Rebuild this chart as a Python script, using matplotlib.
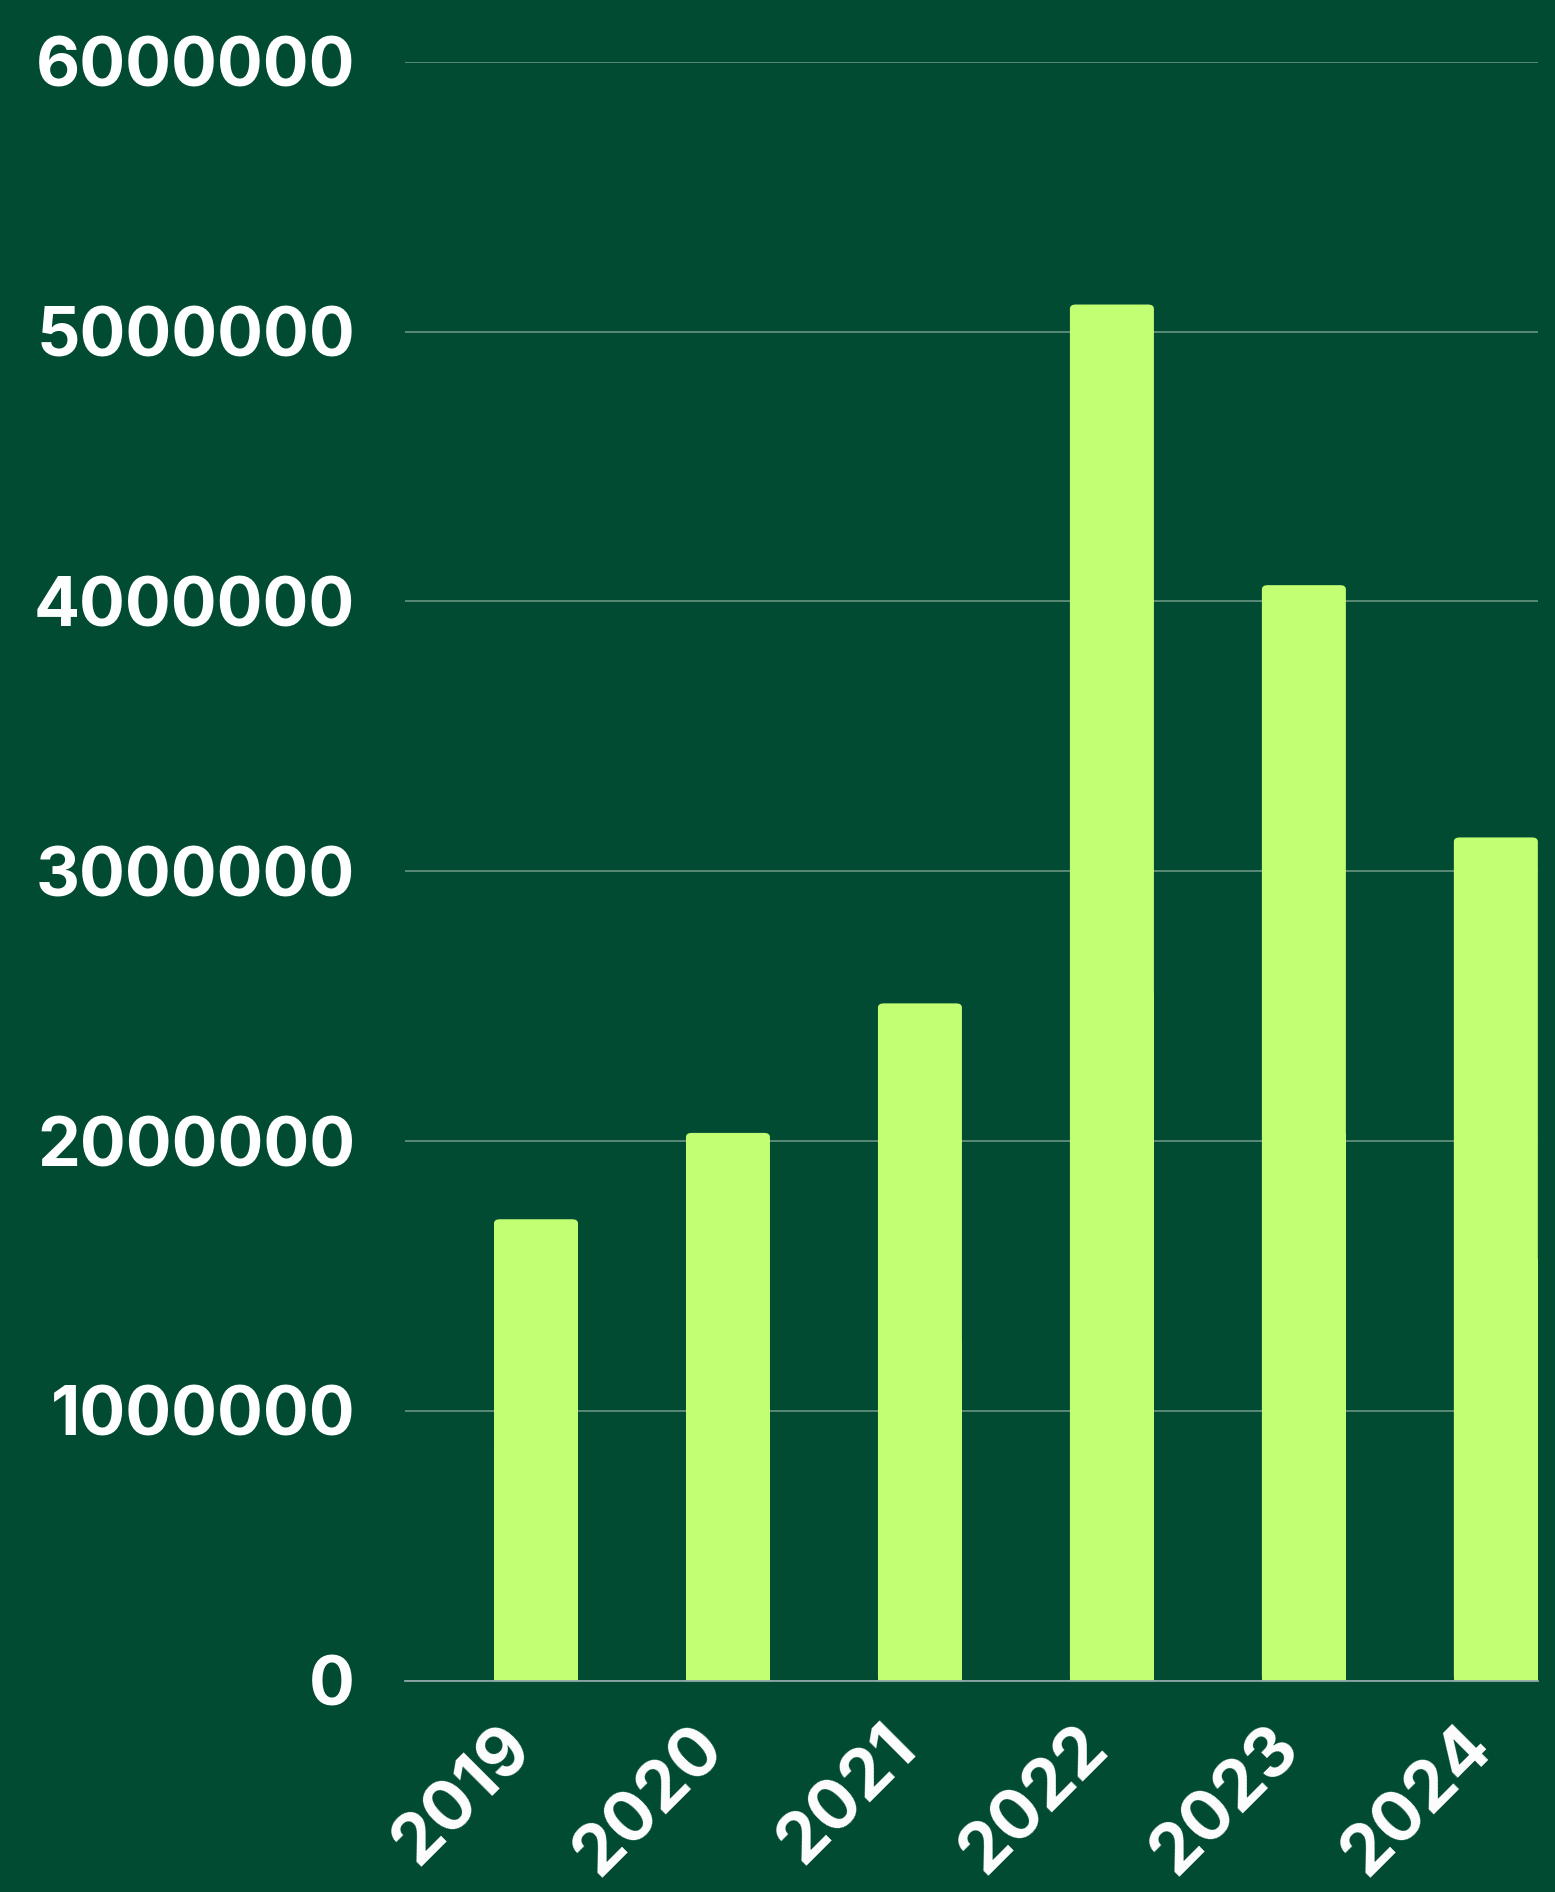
import matplotlib.pyplot as plt
import matplotlib.transforms as mtransforms
from matplotlib.patches import FancyBboxPatch

years = ['2019', '2020', '2021', '2022', '2023', '2024']
values = [1710000, 2030000, 2510000, 5100000, 4060000, 3125000]
yticks = [0, 1000000, 2000000, 3000000, 4000000, 5000000, 6000000]

bg = '#024B33'
bar_color = '#C3FF72'
grid_color = '#5F8E7A'

plt.rcParams['font.family'] = ['Inter', 'DejaVu Sans']
plt.rcParams['font.weight'] = 'bold'

fig = plt.figure(figsize=(15.55, 18.92), dpi=100, facecolor=bg)
ax = fig.add_axes([0.2605, 0.1117, 0.7285, 0.8557])
ax.set_facecolor(bg)

x = list(range(len(years)))
bars = ax.bar(x, values, width=0.4375, color=bar_color, zorder=2)

# swap plain rectangles for slightly rounded ones
for rect in bars.patches:
    rect.set_visible(False)
    fb = FancyBboxPatch((rect.get_x(), 0), rect.get_width(), rect.get_height(),
                        boxstyle='round,pad=0,rounding_size=0.03',
                        mutation_aspect=5.2e5, facecolor=bar_color,
                        edgecolor='none', zorder=2)
    ax.add_patch(fb)
    # square off the bottom corners
    ax.bar(rect.get_x() + rect.get_width() / 2, rect.get_height() * 0.5,
           width=rect.get_width(), color=bar_color, zorder=2)

ax.set_xlim(-0.682, 5.219)
ax.set_ylim(0, 6000000)
ax.set_yticks(yticks)
ax.set_yticklabels([str(v) for v in yticks])
ax.set_xticks(x)
ax.set_xticklabels(years, rotation=45, ha='right', va='center', rotation_mode='anchor')

ax.grid(axis='y', color=grid_color, linewidth=1.3, zorder=1)
ax.set_axisbelow(True)
for s in ['top', 'right', 'left']:
    ax.spines[s].set_visible(False)
ax.spines['bottom'].set_color('#8FA6AA')
ax.spines['bottom'].set_linewidth(1.3)
ax.spines['bottom'].set_zorder(3)

ax.tick_params(axis='y', length=0, pad=36, labelsize=49, labelcolor='white')
ax.tick_params(axis='x', length=0, pad=41, labelsize=50, labelcolor='white')

# nudge the rotated year labels a little to the left
shift = mtransforms.ScaledTranslation(-14 / 100, 0, fig.dpi_scale_trans)
for lbl in ax.get_xticklabels():
    lbl.set_transform(lbl.get_transform() + shift)

fig.savefig('out.png', dpi=100, facecolor=bg)
